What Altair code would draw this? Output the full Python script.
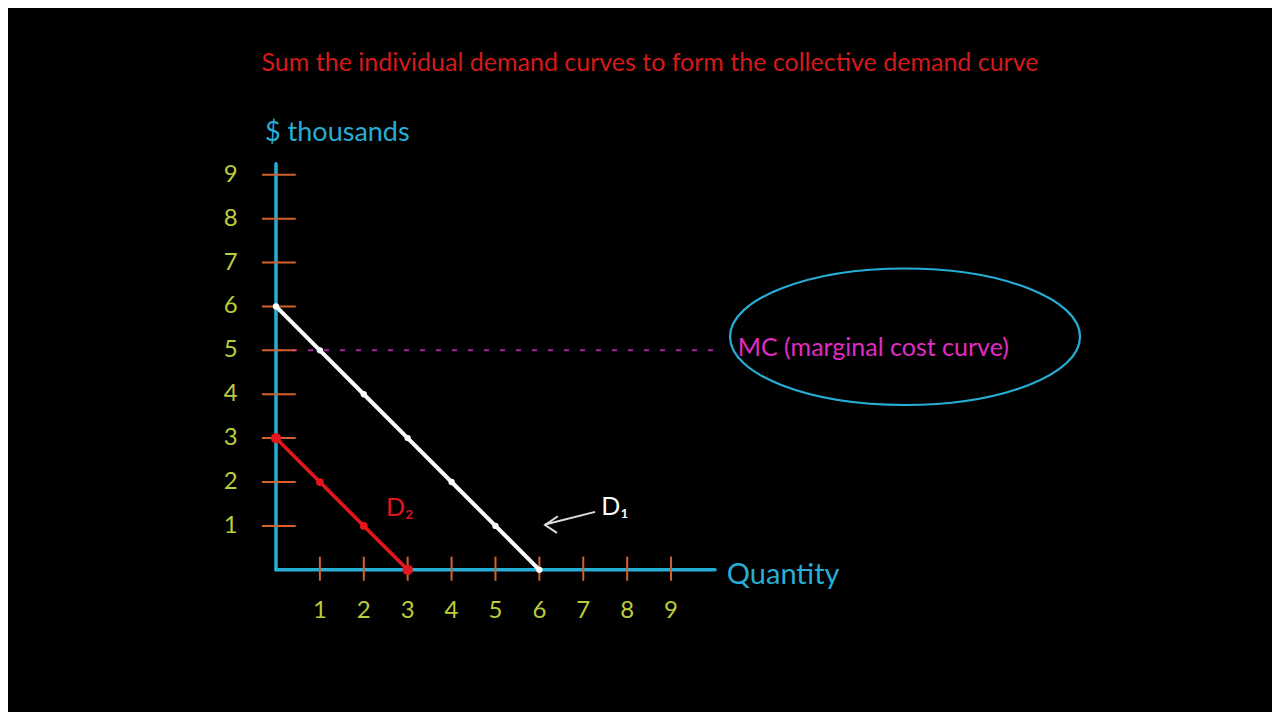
import altair as alt
import pandas as pd

# ---- data ----
d1_q = [0, 1, 2, 3, 4, 5, 6]
d1_p = [6, 5, 4, 3, 2, 1, 0]
d2_q = [0, 1, 2, 3]
d2_p = [3, 2, 1, 0]
d2_size = [110, 60, 60, 110]
mc_price = 5
mc_q_range = [0, 10.1]
ticks = [1, 2, 3, 4, 5, 6, 7, 8, 9]
x_axis_end = 10.0
y_axis_end = 9.25

title_text = "Sum the individual demand curves to form the collective demand curve"
ylabel_text = "$ thousands"
xlabel_text = "Quantity"
mc_text = "MC (marginal cost curve)"

# annotation anchors (data units)
arrow_q = [7.27, 6.13]
arrow_p = [1.32, 1.03]
head_q = [6.42, 6.13, 6.40]
head_p = [1.22, 1.02, 0.84]

CYAN = "#27aed6"
ORANGE = "#d2622c"
LABEL = "#bccd3c"
RED = "#e4161c"
MAGENTA = "#e02cc4"
FONT = "Lato"

xs = alt.Scale(domain=[-6.105, 22.69], nice=False, zero=False)
ys = alt.Scale(domain=[-3.24, 12.80], nice=False, zero=False)

def X(f):
    return alt.X(f, type="quantitative", scale=xs, axis=None)

def Y(f):
    return alt.Y(f, type="quantitative", scale=ys, axis=None)

axes_df = pd.DataFrame({
    "x": [0, 0], "y": [0, 0],
    "x2": [x_axis_end, 0], "y2": [0, y_axis_end],
})
axes = alt.Chart(axes_df).mark_rule(color=CYAN, strokeWidth=3.5, strokeCap="round").encode(
    x=X("x"), y=Y("y"), x2="x2", y2="y2")

yt_df = pd.DataFrame({"v": ticks, "a": [-0.32] * 9, "b": [0.45] * 9})
yticks = alt.Chart(yt_df).mark_rule(color=ORANGE, strokeWidth=2).encode(
    x=X("a"), x2="b", y=Y("v"))
xt_df = pd.DataFrame({"v": ticks, "a": [-0.25] * 9, "b": [0.3] * 9})
xticks = alt.Chart(xt_df).mark_rule(color=ORANGE, strokeWidth=2).encode(
    x=X("v"), y=Y("a"), y2="b")

ylab_df = pd.DataFrame({"v": ticks, "pos": [-1.03] * 9, "t": [str(t) for t in ticks]})
ylabels = alt.Chart(ylab_df).mark_text(color=LABEL, font=FONT, fontSize=24, align="center",
                                       baseline="middle").encode(x=X("pos"), y=Y("v"), text="t")
xlab_df = pd.DataFrame({"v": ticks, "pos": [-0.93] * 9, "t": [str(t) for t in ticks]})
xlabels = alt.Chart(xlab_df).mark_text(color=LABEL, font=FONT, fontSize=24, align="center",
                                       baseline="middle").encode(x=X("v"), y=Y("pos"), text="t")

mc_df = pd.DataFrame({"x": [mc_q_range[0]], "x2": [mc_q_range[1]], "y": [mc_price]})
mc_line = alt.Chart(mc_df).mark_rule(color="#a8249a", strokeWidth=2, strokeDash=[5, 11]).encode(
    x=X("x"), x2="x2", y=Y("y"))

d1_df = pd.DataFrame({"q": d1_q, "p": d1_p})
d1_line = alt.Chart(d1_df).mark_line(color="white", strokeWidth=4, strokeCap="round").encode(
    x=X("q"), y=Y("p"))
d1_pts = alt.Chart(d1_df).mark_point(filled=True, color="white", size=40, opacity=1).encode(
    x=X("q"), y=Y("p"))

d2_df = pd.DataFrame({"q": d2_q, "p": d2_p, "s": d2_size})
d2_line = alt.Chart(d2_df).mark_line(color=RED, strokeWidth=3.5, strokeCap="round").encode(
    x=X("q"), y=Y("p"))
d2_pts = alt.Chart(d2_df).mark_point(filled=True, color=RED, opacity=1).encode(
    x=X("q"), y=Y("p"), size=alt.Size("s:Q", scale=None, legend=None))

arrow_df = pd.DataFrame({"q": arrow_q, "p": arrow_p, "o": [0, 1]})
arrow = alt.Chart(arrow_df).mark_line(color="#dddddd", strokeWidth=2).encode(
    x=X("q"), y=Y("p"), order="o")
head_df = pd.DataFrame({"q": head_q, "p": head_p, "o": [0, 1, 2]})
head = alt.Chart(head_df).mark_line(color="#dddddd", strokeWidth=2).encode(
    x=X("q"), y=Y("p"), order="o")

def label(text, x, y, color, size, align="left"):
    df = pd.DataFrame({"x": [x], "y": [y], "t": [text]})
    return alt.Chart(df).mark_text(color=color, font=FONT, fontSize=size, align=align,
                                   baseline="middle").encode(x=X("x"), y=Y("y"), text="t")

title = label(title_text, 8.52, 11.55, "#d41a1a", 25, "center")
ylab = label(ylabel_text, -0.25, 9.95, CYAN, 27)
xlab = label(xlabel_text, 10.27, -0.11, CYAN, 29)
mclab = label(mc_text, 10.52, 5.06, MAGENTA, 25)
d2lab = label("D₂", 2.82, 1.41, RED, 25, "center")
d1lab = label("D₁", 7.72, 1.43, "white", 25, "center")

ell_df = pd.DataFrame({"x": [14.33], "y": [5.31]})
ellipse = alt.Chart(ell_df).mark_point(
    shape="M -1 0 A 1 0.39 0 1 0 1 0 A 1 0.39 0 1 0 -1 0",
    size=350 * 350, filled=False, color=CYAN, strokeWidth=2.2, opacity=1,
).encode(x=X("x"), y=Y("y"))

chart = alt.layer(
    mc_line, axes, yticks, xticks, ylabels, xlabels,
    d1_line, d1_pts, d2_line, d2_pts, arrow, head,
    title, ylab, xlab, mclab, d2lab, d1lab, ellipse,
).properties(
    width=1264, height=704, background="black", padding=0,
    autosize=alt.AutoSizeParams(type="none"),
).configure_view(stroke=None)

chart.save("out.html", embed_options={"renderer": "svg", "actions": False})
